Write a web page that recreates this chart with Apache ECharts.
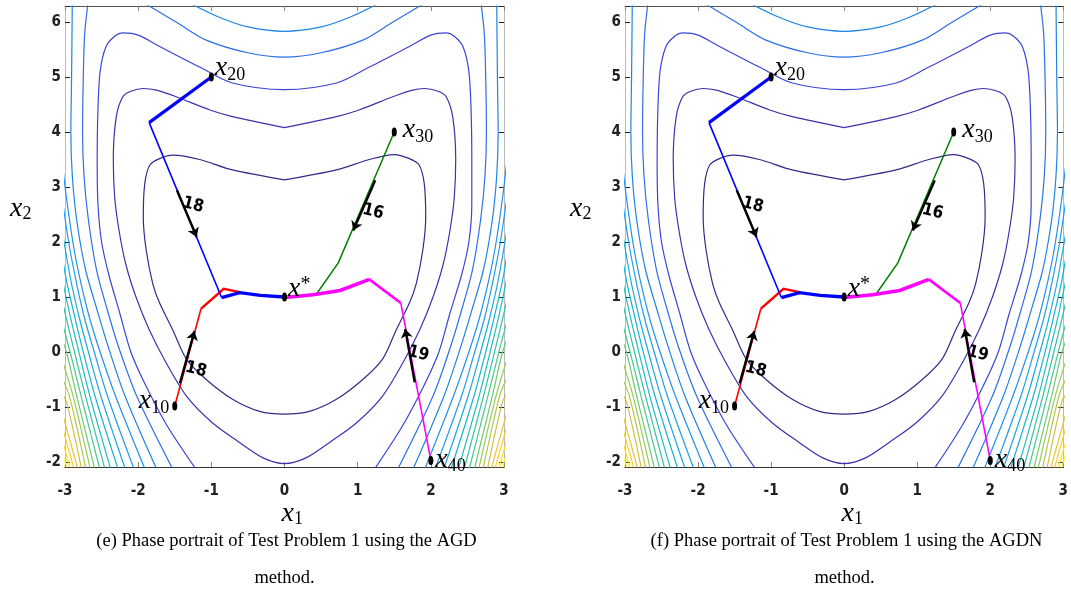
<!DOCTYPE html>
<html><head><meta charset="utf-8">
<script src="https://cdn.jsdelivr.net/npm/echarts@6/dist/echarts.min.js"></script>
<style>html,body{margin:0;padding:0;background:#fff}#c{width:1071px;height:594px}</style>
</head><body><div id="c"></div>
<script>
// ---------- data ----------
const xRange = [-3, 3];
const yRange = [-2.09, 6.29];
const xTickValues = [-3, -2, -1, 0, 1, 2, 3];
const yTickValues = [-2, -1, 0, 1, 2, 3, 4, 5, 6];
const captions = ['(e) Phase portrait of Test Problem 1 using the AGD', '(f) Phase portrait of Test Problem 1 using the AGDN'];
const captionTail = 'method.';

// closed / large contour curves (level index 1..3)
const contour1 = [[0,3.13],[-0.71,3.31],[-1.16,3.5],[-1.52,3.58],[-1.70,3.52],[-1.84,3.40],[-1.91,3.06],[-1.93,2.45],[-1.89,1.85],[-1.80,1.24],[-1.71,0.9],[-1.53,0.41],[-1.34,-0.13],[-1.07,-0.5],[-0.71,-0.86],[-0.34,-1.08],[0,-1.13],[0.34,-1.08],[0.71,-0.86],[1.07,-0.5],[1.34,-0.13],[1.53,0.41],[1.71,0.9],[1.80,1.24],[1.89,1.85],[1.93,2.45],[1.91,3.06],[1.84,3.40],[1.70,3.52],[1.50,3.59],[1.16,3.5],[0.71,3.31],[0,3.13]];
const contour2 = [[0,4.08],[-0.71,4.28],[-1.02,4.40],[-1.48,4.64],[-1.75,4.76],[-1.93,4.79],[-2.10,4.74],[-2.21,4.64],[-2.30,4.27],[-2.34,3.5],[-2.32,2.8],[-2.26,2.2],[-2.17,1.6],[-2.03,1.0],[-1.85,0.41],[-1.62,-0.19],[-1.34,-0.8],[-0.99,-1.28],[-0.62,-1.64],[-0.30,-1.92],[0,-2.03],[0.30,-1.92],[0.62,-1.64],[0.99,-1.28],[1.34,-0.8],[1.62,-0.19],[1.85,0.41],[2.03,1.0],[2.17,1.6],[2.26,2.2],[2.32,2.8],[2.34,3.5],[2.30,4.27],[2.21,4.64],[2.10,4.74],[1.91,4.79],[1.75,4.76],[1.48,4.64],[1.02,4.40],[0.71,4.28],[0,4.08]];
const contour3 = [[-1.20,-2.15],[-1.6,-1.35],[-1.9,-0.6],[-2.1,0],[-2.25,0.7],[-2.4,1.4],[-2.5,2.0],[-2.55,2.7],[-2.56,3.5],[-2.55,4.4],[-2.52,5.1],[-2.44,5.55],[-2.32,5.74],[-2.21,5.8],[-2.0,5.76],[-1.70,5.55],[-1.16,5.18],[-0.71,4.89],[0,4.77],[0.71,4.89],[1.16,5.18],[1.70,5.55],[2.0,5.76],[2.21,5.8],[2.32,5.74],[2.44,5.55],[2.52,5.1],[2.55,4.4],[2.56,3.5],[2.56,2.7],[2.52,2.0],[2.42,1.4],[2.26,0.7],[2.11,0],[1.91,-0.6],[1.61,-1.35],[1.22,-2.15]];
// upper arches of levels 4 and 5
const arch4 = [[-1.95,6.37],[-1.46,5.98],[-1.07,5.67],[-0.5,5.44],[0,5.36],[0.5,5.44],[1.07,5.67],[1.46,5.98],[1.95,6.37]];
const arch5 = [[-1.32,6.36],[-0.9,6.09],[-0.5,5.91],[0,5.83],[0.5,5.91],[0.9,6.09],[1.32,6.36]];
// side branches, levels 4..20
const branchLevels = [4,5,6,7,8,9,10,11,12,13,14,15,16,17,18,19,20];
const leftBranches = [
  [[-2.68,6.4],[-2.73,5.8],[-2.75,5.0],[-2.76,4.0],[-2.74,3.2],[-2.68,2.4],[-2.57,1.5],[-2.42,0.76],[-2.27,0.1],[-2.02,-0.8],[-1.52,-2.15]],
  [[-2.90,6.4],[-2.91,5.0],[-2.92,4.0],[-2.90,3.2],[-2.84,2.4],[-2.72,1.5],[-2.56,0.76],[-2.41,0.1],[-2.18,-0.8],[-1.74,-2.15]],
  [[-3.05,3.6],[-2.98,2.8],[-2.88,1.9],[-2.79,1.3],[-2.66,0.6],[-2.52,0],[-2.31,-0.8],[-1.90,-2.15]],
  [[-3.05,2.9],[-2.95,2.0],[-2.85,1.3],[-2.73,0.6],[-2.60,0],[-2.42,-0.8],[-2.05,-2.15]],
  [[-3.05,2.3],[-2.92,1.3],[-2.80,0.6],[-2.68,0],[-2.51,-0.8],[-2.17,-2.15]],
  [[-3.05,1.85],[-2.98,1.3],[-2.86,0.6],[-2.75,0],[-2.59,-0.8],[-2.27,-2.15]],
  [[-3.05,1.4],[-2.92,0.6],[-2.81,0],[-2.66,-0.8],[-2.37,-2.15]],
  [[-3.05,1.0],[-2.98,0.6],[-2.87,0],[-2.72,-0.8],[-2.45,-2.15]],
  [[-3.05,0.6],[-2.93,0],[-2.78,-0.8],[-2.52,-2.15]],
  [[-3.05,0.25],[-2.98,0],[-2.84,-0.8],[-2.59,-2.15]],
  [[-3.05,-0.1],[-2.89,-0.8],[-2.65,-2.15]],
  [[-3.05,-0.45],[-2.94,-0.8],[-2.71,-2.15]],
  [[-3.05,-0.75],[-2.98,-0.9],[-2.77,-2.15]],
  [[-3.05,-1.05],[-2.82,-2.15]],
  [[-3.05,-1.3],[-2.87,-2.15]],
  [[-3.05,-1.55],[-2.92,-2.15]],
  [[-3.05,-1.8],[-2.96,-2.15]]
];
const rightBranches = [
  [[2.68,6.4],[2.73,5.8],[2.75,5.0],[2.76,4.0],[2.74,3.2],[2.68,2.4],[2.57,1.5],[2.42,0.76],[2.27,0.1],[2.03,-0.8],[1.54,-2.15]],
  [[2.90,6.4],[2.91,5.0],[2.92,4.0],[2.90,3.2],[2.84,2.4],[2.72,1.5],[2.56,0.76],[2.41,0.1],[2.18,-0.8],[1.75,-2.15]],
  [[3.05,3.6],[2.98,2.8],[2.88,1.9],[2.79,1.3],[2.66,0.6],[2.52,0],[2.31,-0.8],[1.91,-2.15]],
  [[3.05,2.9],[2.95,2.0],[2.85,1.3],[2.73,0.6],[2.60,0],[2.42,-0.8],[2.05,-2.15]],
  [[3.05,2.3],[2.92,1.3],[2.80,0.6],[2.68,0],[2.51,-0.8],[2.17,-2.15]],
  [[3.05,1.85],[2.98,1.3],[2.86,0.6],[2.75,0],[2.59,-0.8],[2.27,-2.15]],
  [[3.05,1.4],[2.92,0.6],[2.81,0],[2.66,-0.8],[2.37,-2.15]],
  [[3.05,1.0],[2.98,0.6],[2.87,0],[2.72,-0.8],[2.45,-2.15]],
  [[3.05,0.6],[2.93,0],[2.78,-0.8],[2.52,-2.15]],
  [[3.05,0.25],[2.98,0],[2.84,-0.8],[2.59,-2.15]],
  [[3.05,-0.1],[2.89,-0.8],[2.65,-2.15]],
  [[3.05,-0.45],[2.94,-0.8],[2.71,-2.15]],
  [[3.05,-0.75],[2.98,-0.9],[2.77,-2.15]],
  [[3.05,-1.05],[2.82,-2.15]],
  [[3.05,-1.3],[2.87,-2.15]],
  [[3.05,-1.55],[2.92,-2.15]],
  [[3.05,-1.8],[2.96,-2.15]]
];

// trajectories
const blueThickA = [[-1.0,5.0],[-1.85,4.17]];
const blueThin   = [[-1.85,4.17],[-0.86,0.99]];
const blueThickB = [[-0.86,0.99],[-0.61,1.08],[-0.33,1.03],[0,1.0]];
const redThin    = [[-1.5,-0.98],[-1.14,0.79]];
const redMid     = [[-1.14,0.79],[-0.83,1.15],[-0.61,1.09]];
const greenPath  = [[1.5,4.0],[0.735,1.62],[0.44,1.06],[0.2,1.01],[0,1.0]];
const magThin    = [[2.0,-1.97],[1.59,0.89]];
const magMid     = [[1.59,0.89],[1.16,1.32]];
const magThick   = [[1.16,1.32],[0.76,1.12],[0.39,1.04],[0,0.99]];

// arrows [tail, head] and their iteration counts
const arrows = [[[-1.47,2.94],[-1.20,2.09]], [[1.24,3.12],[0.94,2.21]], [[-1.43,-0.57],[-1.23,0.38]], [[1.78,-0.55],[1.65,0.42]]];
const arrowCounts = ['18', '16', '18', '19'];
const countPositions = [[-1.25,2.67], [1.21,2.55], [-1.21,-0.32], [1.83,-0.03]];

// start points and minimiser
const pointNames = ['20', '30', '10', '40', '*'];
const pointCoords = [[-1.0,5.0],[1.5,4.0],[-1.5,-0.98],[2.0,-1.97],[0,1.0]];

// ---------- styles ----------
const levelColors = ['#352a87','#3b33ae','#3a45d6','#2c6fe6','#1f84e2','#2191ec','#1f9de6','#1aa8de','#15b3d3','#21bcbc','#2ec3a5','#46c98d','#6eca71','#94cc56','#b2c64b','#cfc043','#e7c33b','#face31','#fbe321','#f9fb0e'];
const gridLefts = [65, 625];
const tickFont = "'Liberation Sans Narrow','DejaVu Sans Condensed','Arial Narrow',sans-serif";

const chart = echarts.init(document.getElementById('c'), null, {renderer: 'canvas'});
const grids = [], xAxes = [], yAxes = [], series = [], graphics = [];

function isInt(v){ return Math.abs(v - Math.round(v)) < 1e-6; }

gridLefts.forEach((gl, g) => {
  grids.push({left: gl, top: 6, width: 439, height: 461, containLabel: false});
  xAxes.push({type:'value', gridIndex:g, min:xRange[0], max:xRange[1], interval:1, position:'bottom',
    axisLine:{show:true, onZero:false, lineStyle:{color:'#333', width:1.2}},
    axisTick:{inside:true, length:5, lineStyle:{color:'#888'}},
    axisLabel:{margin:17, fontFamily:tickFont, fontWeight:'bold', fontSize:15, color:'#222'},
    splitLine:{show:false}});
  xAxes.push({type:'value', gridIndex:g, min:xRange[0], max:xRange[1], interval:1, position:'top',
    axisLine:{show:true, onZero:false, lineStyle:{color:'#555', width:1.2}},
    axisTick:{inside:true, length:5, lineStyle:{color:'#888'}},
    axisLabel:{show:false}, splitLine:{show:false}});
  yAxes.push({type:'value', gridIndex:g, min:yRange[0], max:yRange[1], minInterval:1, maxInterval:1, position:'left',
    axisLine:{show:true, onZero:false, lineStyle:{color:'#bbb', width:1}},
    axisTick:{inside:true, length:5, lineStyle:{color:'#222'}},
    axisLabel:{margin:4, fontFamily:tickFont, fontWeight:'bold', fontSize:15, color:'#222',
      formatter: v => isInt(v) ? String(Math.round(v)) : ''},
    splitLine:{show:false}});
  yAxes.push({type:'value', gridIndex:g, min:yRange[0], max:yRange[1], minInterval:1, maxInterval:1, position:'right',
    axisLine:{show:true, onZero:false, lineStyle:{color:'#bbb', width:1}},
    axisTick:{inside:true, length:5, lineStyle:{color:'#222'}},
    axisLabel:{show:false}, splitLine:{show:false}});

  const xi = 2*g, yi = 2*g;
  const cline = (pts, level) => ({type:'line', xAxisIndex:xi, yAxisIndex:yi, data:pts, showSymbol:false, symbol:'none',
    smooth:0.3, silent:true, z:1, clip:true, lineStyle:{color:levelColors[level-1], width:1.2}});
  series.push(cline(contour1, 1), cline(contour2, 2), cline(contour3, 3), cline(arch4, 4), cline(arch5, 5));
  leftBranches.forEach((b, i) => series.push(cline(b, branchLevels[i])));
  rightBranches.forEach((b, i) => series.push(cline(b, branchLevels[i])));

  const path = (pts, color, w) => ({type:'line', xAxisIndex:xi, yAxisIndex:yi, data:pts, showSymbol:false, symbol:'none',
    silent:true, z:3, lineStyle:{color:color, width:w, join:'miter'}});
  series.push(path(redThin,'#ff0000',1.6), path(redMid,'#ff0000',2.4));
  series.push(path(greenPath,'#008000',1.5));
  series.push(path(blueThickA,'#0000ff',3.2), path(blueThin,'#0000ff',1.6), path(blueThickB,'#0000ff',3.4));
  series.push(path(magThin,'#ff00ff',1.6), path(magMid,'#ff00ff',2.6), path(magThick,'#ff00ff',3.6));

  series.push({type:'lines', coordinateSystem:'cartesian2d', xAxisIndex:xi, yAxisIndex:yi, z:5, silent:true,
    symbol:['none','arrow'], symbolSize:[0,9],
    lineStyle:{color:'#000', width:2.4, opacity:1},
    data: arrows.map(a => ({coords:a}))});

  series.push({type:'scatter', xAxisIndex:xi, yAxisIndex:yi, z:6, silent:true, symbolSize:0,
    itemStyle:{opacity:1},
    data: countPositions.map((p, i) => ({value:p, name:arrowCounts[i]})),
    label:{show:true, formatter:'{b}', position:'inside', rotate:-14, fontFamily:tickFont, fontWeight:'bold', fontSize:17, color:'#000'}});

  const labelCfg = [
    {position:'right', distance:1, offset:[0,-8]},
    {position:'right', distance:6, offset:[0,-1]},
    {position:'left', distance:3, offset:[0,-4]},
    {position:'right', distance:2, offset:[0,0]},
    {position:'right', distance:1, offset:[0,-7]}
  ];
  series.push({type:'scatter', xAxisIndex:xi, yAxisIndex:yi, z:7, silent:true, symbol:'circle', symbolSize:[5,9],
    itemStyle:{color:'#000', opacity:1},
    data: pointCoords.map((p, i) => ({value:p, label:Object.assign({show:true, color:'#000',
      formatter: pointNames[i] === '*' ? '{x|x}{p|*}' : '{x|x}{s|' + pointNames[i] + '}'}, labelCfg[i])})),
    label:{color:'#000', rich:{
      x:{fontFamily:'Liberation Serif', fontStyle:'italic', fontSize:28, color:'#000', lineHeight:30, verticalAlign:'bottom', padding:[0,0,2,0]},
      s:{fontFamily:'Liberation Serif', fontSize:18, color:'#000', lineHeight:30, verticalAlign:'bottom'},
      p:{fontFamily:'Liberation Serif', fontSize:20, color:'#000', lineHeight:30, verticalAlign:'top'}
    }}});

  const cx = gl + 219.5;
  graphics.push({type:'text', left: cx - 3, top: 500, silent:true,
    style:{text:'{x|x}{s|1}', rich:{x:{fontFamily:'Liberation Serif', fontStyle:'italic', fontSize:28, fill:'#000', lineHeight:28, verticalAlign:'bottom'}, s:{fontFamily:'Liberation Serif', fontSize:18, fill:'#000', lineHeight:28, verticalAlign:'bottom'}}}});
  graphics.push({type:'text', left: gl - 55, top: 195, silent:true,
    style:{text:'{x|x}{s|2}', rich:{x:{fontFamily:'Liberation Serif', fontStyle:'italic', fontSize:28, fill:'#000', lineHeight:28, verticalAlign:'bottom'}, s:{fontFamily:'Liberation Serif', fontSize:18, fill:'#000', lineHeight:28, verticalAlign:'bottom'}}}});
  graphics.push({type:'text', x: cx + 2, y: 541, silent:true,
    style:{text:captions[g], font:"18.5px 'Liberation Serif'", fill:'#000', textAlign:'center', textVerticalAlign:'middle', align:'center', verticalAlign:'middle'}});
  graphics.push({type:'text', x: cx, y: 578, silent:true,
    style:{text:captionTail, font:"18.5px 'Liberation Serif'", fill:'#000', textAlign:'center', textVerticalAlign:'middle', align:'center', verticalAlign:'middle'}});
});

chart.setOption({animation:false, backgroundColor:'#fff', grid:grids, xAxis:xAxes, yAxis:yAxes, series:series, graphic:graphics});
</script></body></html>
